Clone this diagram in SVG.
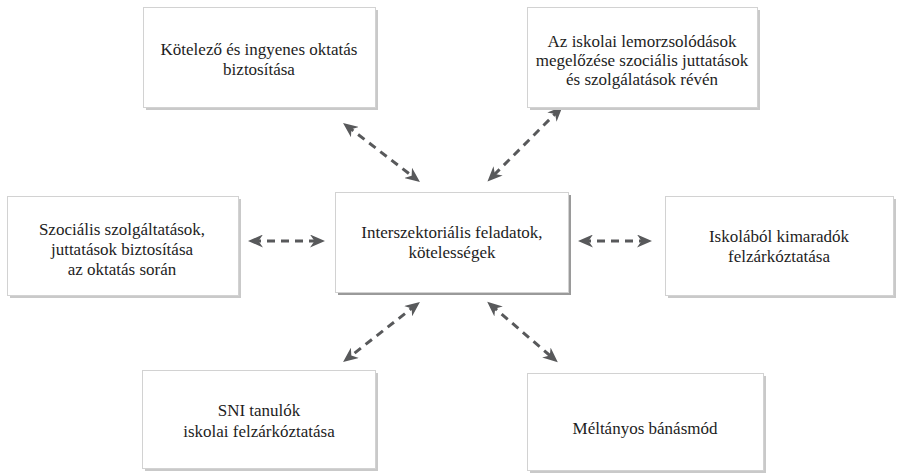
<svg xmlns="http://www.w3.org/2000/svg" width="898" height="475" viewBox="0 0 898 475">
  <style>
    .box { fill: #ffffff; stroke: #d2d2d2; stroke-width: 1; }
    .shadow { fill: #c9c9c9; }
    .shadow-dark { fill: #9a9a9a; }
    .label { font-family: "Liberation Serif", "Times New Roman", serif; font-size: 17px; fill: #1d1d1d; text-anchor: middle; }
    .link { stroke: #58595b; stroke-width: 3; stroke-dasharray: 8 6; fill: none; marker-start: url(#head); marker-end: url(#head); }
  </style>
  <defs>
    <marker id="head" viewBox="0 0 15 13" refX="10" refY="6.5" markerWidth="15" markerHeight="13" markerUnits="userSpaceOnUse" orient="auto-start-reverse">
      <path d="M0,0 L15,6.5 L0,13 L4.5,6.5 z" fill="#58595b"/>
    </marker>
  </defs>
  <rect width="898" height="475" fill="#ffffff"/>

  <!-- dashed two-way links from the centre box -->
  <g id="connectors">
    <line class="link" x1="347" y1="126" x2="416" y2="179"/>
    <line class="link" x1="559" y1="110" x2="491" y2="178"/>
    <line class="link" x1="253" y1="241" x2="320" y2="241"/>
    <line class="link" x1="583" y1="241" x2="647" y2="241"/>
    <line class="link" x1="416" y1="305" x2="347" y2="359"/>
    <line class="link" x1="491" y1="305" x2="554" y2="359"/>
  </g>

  <g id="node-kotelezo">
    <rect class="shadow" x="146" y="10" width="232" height="100"/>
    <rect class="box" x="143.5" y="7.5" width="232" height="100"/>
    <text class="label" x="259" y="55">Kötelező és ingyenes oktatás</text>
    <text class="label" x="259" y="75">biztosítása</text>
  </g>

  <g id="node-lemorzsolodas">
    <rect class="shadow" x="530" y="10" width="230" height="100"/>
    <rect class="box" x="527.5" y="7.5" width="230" height="100"/>
    <text class="label" x="642" y="47">Az iskolai lemorzsolódások</text>
    <text class="label" x="642" y="66">megelőzése szociális juttatások</text>
    <text class="label" x="642" y="85">és szolgálatások révén</text>
  </g>

  <g id="node-szocialis">
    <rect class="shadow" x="10" y="199" width="231" height="99"/>
    <rect class="box" x="7.5" y="196.5" width="231" height="99"/>
    <text class="label" x="122" y="235">Szociális szolgáltatások,</text>
    <text class="label" x="122" y="255">juttatások biztosítása</text>
    <text class="label" x="122" y="275">az oktatás során</text>
  </g>

  <g id="node-interszektorialis">
    <rect class="shadow-dark" x="338" y="195" width="233" height="100"/>
    <rect class="box" x="335.5" y="192.5" width="233" height="100"/>
    <text class="label" x="452" y="238">Interszektoriális feladatok,</text>
    <text class="label" x="452" y="258">kötelességek</text>
  </g>

  <g id="node-iskolabol">
    <rect class="shadow" x="668" y="199" width="228" height="99"/>
    <rect class="box" x="665.5" y="196.5" width="228" height="99"/>
    <text class="label" x="779" y="242">Iskolából kimaradók</text>
    <text class="label" x="779" y="262">felzárkóztatása</text>
  </g>

  <g id="node-sni">
    <rect class="shadow" x="145" y="373" width="233" height="98"/>
    <rect class="box" x="142.5" y="370.5" width="233" height="98"/>
    <text class="label" x="259" y="416">SNI tanulók</text>
    <text class="label" x="259" y="437">iskolai felzárkóztatása</text>
  </g>

  <g id="node-meltanyos">
    <rect class="shadow" x="530" y="376" width="236" height="97"/>
    <rect class="box" x="527.5" y="373.5" width="236" height="97"/>
    <text class="label" x="645" y="434">Méltányos bánásmód</text>
  </g>
</svg>
